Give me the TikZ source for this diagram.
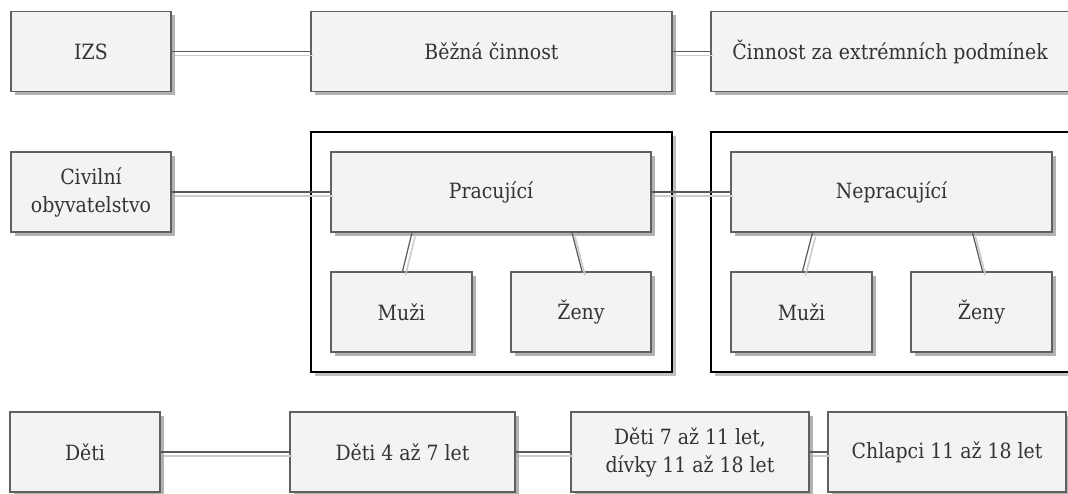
\documentclass[tikz,border=0pt]{standalone}
\usepackage{fontspec}
\setmainfont{DejaVu Serif Condensed}
\usepackage{xcolor}
\usepackage{tikz}
\usetikzlibrary{shadows}
\definecolor{boxfill}{HTML}{F3F3F3}
\definecolor{boxline}{HTML}{606060}
\definecolor{textgray}{HTML}{333333}

\begin{document}
\begin{tikzpicture}[x=1pt,y=-1pt,
  font=\fontsize{21}{28}\selectfont,
  item/.style={draw=boxline,line width=1.3pt,fill=boxfill,text=textgray,
    minimum height=80pt,align=center,inner sep=0pt,
    drop shadow={shadow xshift=4pt,shadow yshift=-4pt,fill=black!30,opacity=1}},
  group/.style={draw=black,line width=1.6pt,fill=white,inner sep=0pt,
    drop shadow={shadow xshift=4pt,shadow yshift=-4pt,fill=black!25,opacity=1}},
  link/.style={draw=black!65,line width=1.2pt,
    preaction={draw=black!20,line width=1.6pt,transform canvas={shift={(3pt,-4pt)}}}}
]
\useasboundingbox (0,0) rectangle (1068,494);
\clip (0,0) rectangle (1068,494);

% row 1
\node[item,minimum width=160pt] (izs) at (91,51.5) {IZS};
\node[item,minimum width=361pt] (bezna) at (491.5,51.5) {Běžná činnost};
\node[item,minimum width=358pt] (extrem) at (890,51.5) {Činnost za extrémních podmínek};
\draw[link] (izs) -- (bezna);
\draw[link] (bezna) -- (extrem);

% row 2
\node[group,minimum width=361pt,minimum height=240pt] (prac-g) at (491.5,252) {};
\node[group,minimum width=364pt,minimum height=240pt] (neprac-g) at (893,252) {};
\node[item,minimum width=160pt] (civil) at (91,192) {Civilní\\obyvatelstvo};
\node[item,minimum width=320pt] (prac) at (491,192) {Pracující};
\node[item,minimum width=141pt] (prac-m) at (401.5,312) {Muži};
\node[item,minimum width=140pt] (prac-z) at (581,312) {Ženy};
\node[item,minimum width=321pt] (neprac) at (891.5,192) {Nepracující};
\node[item,minimum width=141pt] (neprac-m) at (801.5,312) {Muži};
\node[item,minimum width=141pt] (neprac-z) at (981.5,312) {Ženy};
\draw[link] (civil) -- (prac);
\draw[link] (prac) -- (neprac);
\draw[link] ([xshift=-79pt]prac.south) -- ([xshift=1pt]prac-m.north);
\draw[link] ([xshift=81pt]prac.south) -- ([xshift=1pt]prac-z.north);
\draw[link] ([xshift=-79pt]neprac.south) -- ([xshift=1pt]neprac-m.north);
\draw[link] ([xshift=81pt]neprac.south) -- ([xshift=1pt]neprac-z.north);

% row 3
\node[item,minimum width=150pt] (deti) at (85,452) {Děti};
\node[item,minimum width=225pt] (deti-a) at (402.5,452) {Děti 4 až 7 let};
\node[item,minimum width=238pt] (deti-b) at (690,452) {Děti 7 až 11 let,\\dívky 11 až 18 let};
\node[item,minimum width=238pt] (deti-c) at (947,452) {Chlapci 11 až 18 let};
\draw[link] (deti) -- (deti-a);
\draw[link] (deti-a) -- (deti-b);
\draw[link] (deti-b) -- (deti-c);
\end{tikzpicture}
\end{document}
